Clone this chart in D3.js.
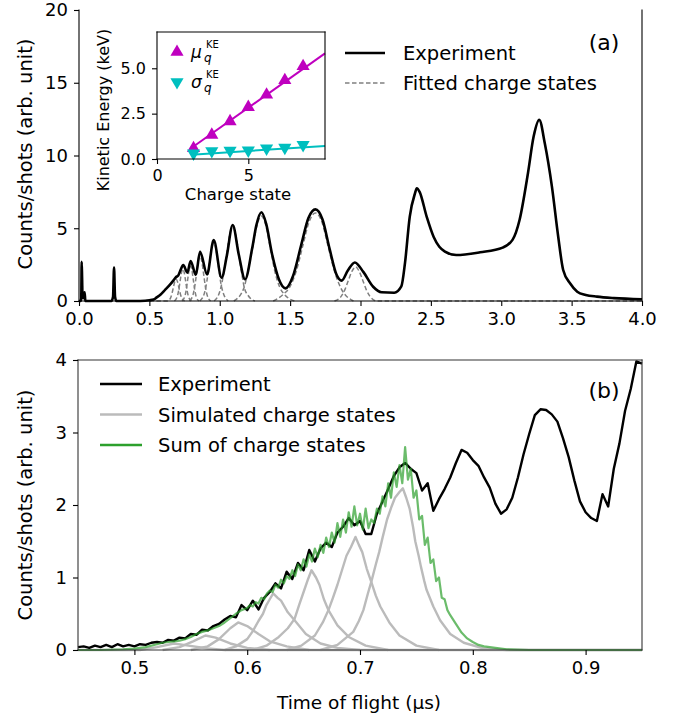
<!DOCTYPE html>
<html>
<head>
<meta charset="utf-8">
<script src="https://cdn.jsdelivr.net/npm/d3@7"></script>
<style>
  body { margin: 0; background: #fff; }
  svg text { font-family: 'DejaVu Sans', sans-serif; fill: #000; }
</style>
</head>
<body>
<svg id="chart" width="684" height="719"></svg>
<script>
// ---------------- data ----------------
// panel (a): time of flight (us) vs counts/shots
var expTop = [[0.000,0],[0.012,0],[0.016,0.2],[0.019,2.7],[0.022,1.6],[0.025,0.3],[0.030,0.2],[0.040,0.6],[0.045,0],[0.060,0],
  [0.230,0],[0.242,0.3],[0.249,2.3],[0.256,0.3],[0.265,0],[0.400,0],[0.470,0.02],[0.500,0.05],[0.530,0.1],[0.552,0.25],
  [0.580,0.45],[0.610,0.75],[0.640,1.05],[0.670,1.4],[0.690,1.65],[0.705,1.75],[0.720,2.1],[0.741,2.47],[0.770,1.95],
  [0.793,2.75],[0.830,1.8],[0.860,3.39],[0.910,1.83],[0.957,4.19],[1.013,1.6],[1.050,3.1],[1.092,5.22],[1.135,3.2],
  [1.180,1.49],[1.230,3.6],[1.260,5.2],[1.296,6.1],[1.330,5.3],[1.370,3.3],[1.420,1.5],[1.468,0.87],[1.520,1.7],
  [1.580,3.9],[1.630,5.7],[1.680,6.3],[1.730,5.6],[1.780,3.6],[1.830,1.8],[1.866,1.4],[1.910,2.1],[1.960,2.65],
  [2.020,2.0],[2.090,0.98],[2.150,0.6],[2.240,0.57],[2.290,1.0],[2.316,2.6],[2.350,5.8],[2.387,7.4],[2.400,7.75],
  [2.420,7.5],[2.470,5.8],[2.520,4.4],[2.560,3.73],[2.600,3.4],[2.680,3.16],[2.850,3.35],[3.010,3.67],[3.080,4.2],
  [3.130,5.57],[3.190,8.8],[3.230,11.3],[3.270,12.45],[3.310,10.8],[3.360,7.86],[3.405,4.4],[3.440,2.13],[3.490,1.2],
  [3.540,0.64],[3.600,0.42],[3.680,0.3],[3.800,0.2],[4.000,0.12]];

// fitted charge states (dashed)
var fitPeaks = [
  [[0.50,0],[0.63,0],[0.65,0.2],[0.66,0.49],[0.67,0.91],[0.68,1.32],[0.69,1.5],[0.70,1.32],[0.71,0.91],[0.72,0.49],[0.73,0.2],[0.75,0]],
  [[0.678,0],[0.698,0.3],[0.708,0.72],[0.718,1.34],[0.728,1.94],[0.738,2.2],[0.748,1.94],[0.758,1.34],[0.768,0.72],[0.778,0.3],[0.798,0]],
  [[0.732,0],[0.752,0.32],[0.762,0.78],[0.772,1.46],[0.782,2.12],[0.792,2.4],[0.802,2.12],[0.812,1.46],[0.822,0.78],[0.832,0.32],[0.852,0]],
  [[0.785,0],[0.81,0.42],[0.8225,1.01],[0.835,1.88],[0.8475,2.73],[0.86,3.1],[0.8725,2.73],[0.885,1.88],[0.8975,1.01],[0.91,0.42],[0.935,0]],
  [[0.858,0],[0.891,0.54],[0.9075,1.3],[0.924,2.43],[0.9405,3.53],[0.957,4.0],[0.9735,3.53],[0.99,2.43],[1.0065,1.3],[1.023,0.6],[1.06,0]],
  [[0.96,0],[1.002,0.7],[1.0245,1.7],[1.047,3.1],[1.0695,4.5],[1.092,5.05],[1.1145,4.5],[1.137,3.1],[1.1595,1.7],[1.175,0.9],[1.2,0.4],[1.25,0]],
  [[1.10,0],[1.17,0.85],[1.1985,1.95],[1.231,3.55],[1.2635,5.15],[1.296,5.85],[1.3285,5.15],[1.361,3.55],[1.3935,1.95],[1.426,0.95],[1.46,0.45],[1.53,0]],
  [[1.38,0],[1.45,0.45],[1.50,1.0],[1.545,2.1],[1.59,3.8],[1.635,5.45],[1.68,6.05],[1.725,5.45],[1.77,3.75],[1.815,2.05],[1.86,0.9],[1.95,0]],
  [[1.815,0],[1.865,0.35],[1.89,0.8],[1.915,1.45],[1.94,2.05],[1.965,2.35],[1.99,2.05],[2.015,1.45],[2.04,0.8],[2.065,0.35],[2.115,0],[4.0,0]]
];

// inset: kinetic energy vs charge state
var chargeStates = [2, 3, 4, 5, 6, 7, 8];
var muKE = [0.59, 1.33, 2.07, 2.86, 3.54, 4.34, 5.11];
var sigmaKE = [0.31, 0.44, 0.46, 0.48, 0.59, 0.63, 0.78];
var fitQ = [1.9, 9.2];
var muFit = [0.62, 5.82];
var sigmaFit = [0.24, 0.72];

// panel (b): zoom on 0.45-0.95 us
var expBottom = [[0.450,0.04],[0.455,0.05],[0.460,0.03],[0.465,0.06],[0.470,0.04],[0.475,0.07],[0.480,0.04],[0.485,0.08],
  [0.490,0.05],[0.495,0.07],[0.500,0.05],[0.505,0.08],[0.510,0.07],[0.515,0.10],[0.520,0.11],[0.525,0.10],[0.530,0.14],
  [0.535,0.13],[0.540,0.17],[0.545,0.16],[0.550,0.22],[0.555,0.21],[0.560,0.28],[0.565,0.27],[0.570,0.33],[0.575,0.36],
  [0.580,0.42],[0.585,0.47],[0.590,0.45],[0.595,0.62],[0.600,0.55],[0.605,0.68],[0.610,0.56],[0.615,0.72],[0.620,0.80],
  [0.625,0.92],[0.630,0.85],[0.635,1.08],[0.640,0.98],[0.645,1.20],[0.650,1.10],[0.655,1.38],[0.660,1.22],[0.665,1.40],
  [0.670,1.48],[0.675,1.42],[0.680,1.62],[0.685,1.70],[0.690,1.82],[0.695,1.72],[0.700,1.78],[0.705,1.60],[0.710,1.60],
  [0.715,1.88],[0.720,2.05],[0.725,2.22],[0.730,2.40],[0.735,2.52],[0.740,2.58],[0.745,2.50],[0.750,2.44],[0.755,2.20],
  [0.760,2.30],[0.765,1.92],[0.770,2.08],[0.775,2.22],[0.780,2.38],[0.785,2.58],[0.790,2.76],[0.795,2.72],[0.800,2.62],
  [0.805,2.54],[0.810,2.38],[0.815,2.24],[0.820,2.02],[0.825,1.88],[0.830,1.94],[0.835,2.10],[0.840,2.38],[0.845,2.70],
  [0.850,2.98],[0.855,3.24],[0.860,3.32],[0.865,3.31],[0.870,3.25],[0.875,3.15],[0.880,2.92],[0.885,2.66],[0.890,2.34],
  [0.895,2.05],[0.900,1.90],[0.905,1.82],[0.910,1.78],[0.915,2.15],[0.920,1.98],[0.925,2.50],[0.930,2.85],[0.935,3.30],
  [0.940,3.60],[0.945,3.98],[0.950,3.95]];

var sumStates = [[0.450,0],[0.470,0],[0.490,0.01],[0.500,0.02],[0.510,0.04],[0.520,0.08],[0.525,0.10],[0.530,0.11],
  [0.535,0.12],[0.540,0.13],[0.545,0.15],[0.550,0.18],[0.555,0.22],[0.560,0.25],[0.565,0.27],[0.570,0.30],[0.575,0.33],
  [0.580,0.38],[0.585,0.44],[0.590,0.50],[0.595,0.55],[0.600,0.58],[0.6025,0.62],[0.605,0.60],[0.6075,0.66],[0.610,0.64],
  [0.6125,0.72],[0.615,0.70],[0.6175,0.78],[0.620,0.82],[0.6225,0.80],[0.625,0.90],[0.6275,0.86],[0.630,0.97],[0.6325,0.92],
  [0.635,1.02],[0.6375,0.98],[0.640,1.10],[0.6425,1.02],[0.645,1.18],[0.6475,1.10],[0.650,1.25],[0.6525,1.15],[0.655,1.32],
  [0.6575,1.22],[0.660,1.40],[0.6625,1.28],[0.665,1.45],[0.6675,1.34],[0.670,1.55],[0.6725,1.42],[0.675,1.62],[0.6775,1.48],
  [0.680,1.75],[0.6825,1.56],[0.685,1.80],[0.6875,1.62],[0.690,1.90],[0.6925,1.70],[0.695,1.98],[0.6975,1.72],[0.700,1.88],
  [0.7025,1.66],[0.705,1.95],[0.7075,1.68],[0.710,1.80],[0.7125,1.75],[0.715,1.95],[0.7175,1.88],[0.720,2.12],[0.7225,1.98],
  [0.725,2.30],[0.7275,2.10],[0.730,2.45],[0.7325,2.25],[0.735,2.55],[0.7375,2.30],[0.740,2.80],[0.7425,2.35],[0.745,2.50],
  [0.7475,2.10],[0.750,2.20],[0.7525,1.80],[0.755,1.85],[0.7575,1.45],[0.760,1.55],[0.7625,1.20],[0.765,1.25],[0.7675,0.95],
  [0.770,1.00],[0.7725,0.72],[0.775,0.70],[0.7775,0.55],[0.780,0.48],[0.785,0.36],[0.790,0.24],[0.795,0.16],[0.800,0.11],
  [0.805,0.07],[0.810,0.05],[0.820,0.03],[0.830,0.01],[0.850,0],[0.950,0]];

// simulated charge states (grey)
var simStates = [
  [[0.45,0],[0.505,0],[0.52,0.04],[0.535,0.09],[0.548,0.06],[0.565,0.02],[0.58,0],[0.95,0]],
  [[0.525,0],[0.54,0.04],[0.552,0.12],[0.563,0.2],[0.572,0.17],[0.585,0.09],[0.60,0.03],[0.62,0]],
  [[0.55,0],[0.565,0.05],[0.575,0.15],[0.585,0.3],[0.592,0.38],[0.60,0.33],[0.61,0.22],[0.62,0.12],[0.635,0.05],[0.655,0]],
  [[0.58,0],[0.59,0.05],[0.60,0.15],[0.605,0.26],[0.61,0.4],[0.614,0.5],[0.617,0.62],[0.62,0.7],[0.623,0.78],[0.627,0.72],
   [0.63,0.68],[0.636,0.52],[0.642,0.41],[0.652,0.22],[0.665,0.09],[0.68,0.03],[0.70,0]],
  [[0.605,0],[0.617,0.06],[0.628,0.18],[0.636,0.3],[0.642,0.43],[0.646,0.62],[0.65,0.8],[0.654,0.98],[0.657,1.1],[0.661,1.0],
   [0.664,0.9],[0.668,0.7],[0.672,0.55],[0.68,0.34],[0.69,0.18],[0.705,0.06],[0.725,0]],
  [[0.635,0],[0.648,0.06],[0.66,0.2],[0.667,0.38],[0.672,0.55],[0.676,0.72],[0.68,0.9],[0.684,1.1],[0.688,1.3],[0.692,1.42],
   [0.696,1.56],[0.699,1.45],[0.702,1.35],[0.706,1.12],[0.71,0.94],[0.714,0.75],[0.718,0.6],[0.726,0.38],[0.735,0.2],[0.75,0.06],[0.77,0]],
  [[0.665,0],[0.68,0.07],[0.694,0.25],[0.699,0.4],[0.703,0.55],[0.707,0.78],[0.71,0.94],[0.714,1.18],[0.717,1.35],[0.72,1.55],
   [0.724,1.8],[0.728,1.98],[0.731,2.1],[0.735,2.18],[0.738,2.23],[0.741,2.1],[0.744,1.95],[0.747,1.7],[0.749,1.5],[0.752,1.3],
   [0.754,1.15],[0.757,0.95],[0.759,0.83],[0.765,0.6],[0.771,0.41],[0.78,0.22],[0.792,0.1],[0.81,0.02],[0.83,0],[0.95,0]]
];

var topXTicks = [0, 0.5, 1.0, 1.5, 2.0, 2.5, 3.0, 3.5, 4.0];
var topYTicks = [0, 5, 10, 15, 20];
var botXTicks = [0.5, 0.6, 0.7, 0.8, 0.9];
var botYTicks = [0, 1, 2, 3, 4];
var insetXTicks = [0, 5];
var insetYTicks = [0, 2.5, 5.0];

// ---------------- drawing ----------------
var svg = d3.select('#chart');
var GREEN = '#2ca02c', GREY = '#bbbbbb', FIT = '#808080';
var MAG = '#bf00bf', CYAN = '#00bfbf';

function spines(g, x, y, sides, color) {
  var x0 = x.range()[0], x1 = x.range()[1], y0 = y.range()[0], y1 = y.range()[1];
  var seg = { left: [x0, y0, x0, y1], right: [x1, y0, x1, y1], bottom: [x0, y0, x1, y0], top: [x0, y1, x1, y1] };
  sides.forEach(function (s) {
    g.append('line').attr('x1', seg[s][0]).attr('y1', seg[s][1]).attr('x2', seg[s][2]).attr('y2', seg[s][3])
      .attr('stroke', color || '#000').attr('stroke-width', 1.1).attr('stroke-linecap', 'square');
  });
}

function axes(g, x, y, xt, yt, xfmt, yfmt, fs) {
  var y0 = y.range()[0], x0 = x.range()[0];
  var ax = g.append('g').attr('transform', 'translate(0,' + y0 + ')')
    .call(d3.axisBottom(x).tickValues(xt).tickFormat(xfmt).tickSize(5).tickPadding(6));
  var ay = g.append('g').attr('transform', 'translate(' + x0 + ',0)')
    .call(d3.axisLeft(y).tickValues(yt).tickFormat(yfmt).tickSize(5).tickPadding(6));
  [ax, ay].forEach(function (a) {
    a.select('.domain').remove();
    a.selectAll('text').style('font-size', fs + 'px').style('font-family', "'DejaVu Sans', sans-serif");
    a.selectAll('line').attr('stroke', '#000').attr('stroke-width', 1.1);
  });
}

// ---- panel (a) ----
var xTop = d3.scaleLinear().domain([0, 4]).range([79, 642]);
var yTop = d3.scaleLinear().domain([0, 20]).range([301, 10]);
var gA = svg.append('g');
var lineTop = d3.line().x(function (d) { return xTop(d[0]); }).y(function (d) { return yTop(d[1]); }).curve(d3.curveMonotoneX);

gA.selectAll('path.fit').data(fitPeaks).enter().append('path').attr('class', 'fit')
  .attr('d', lineTop).attr('fill', 'none').attr('stroke', FIT).attr('stroke-width', 1.5).attr('stroke-dasharray', '4.5,2.5');
gA.append('path').attr('d', lineTop(expTop)).attr('fill', 'none').attr('stroke', '#000')
  .attr('stroke-width', 2.6).attr('stroke-linejoin', 'round');

spines(gA, xTop, yTop, ['left', 'bottom', 'right']);
axes(gA, xTop, yTop, topXTicks, topYTicks, d3.format('.1f'), d3.format('d'), 18);

gA.append('text').attr('transform', 'translate(32,154) rotate(-90)').attr('text-anchor', 'middle')
  .style('font-size', '19.5px').text('Counts/shots (arb. unit)');
gA.append('text').attr('x', 604).attr('y', 50).attr('text-anchor', 'middle').style('font-size', '22px').text('(a)');

// legend (a)
var legA = [{ label: 'Experiment', stroke: '#000', w: 2.6, dash: null }, { label: 'Fitted charge states', stroke: FIT, w: 1.5, dash: '4.5,2.5' }];
legA.forEach(function (d, i) {
  var yy = 53 + i * 30;
  gA.append('line').attr('x1', 345).attr('x2', 385).attr('y1', yy).attr('y2', yy)
    .attr('stroke', d.stroke).attr('stroke-width', d.w).attr('stroke-dasharray', d.dash);
  gA.append('text').attr('x', 403).attr('y', yy).attr('dy', '0.36em').style('font-size', '19.5px').text(d.label);
});

// ---- inset ----
var xIn = d3.scaleLinear().domain([0, 9.2]).range([157, 325]);
var yIn = d3.scaleLinear().domain([0, 7]).range([159, 32]);
var gI = svg.append('g');
gI.append('rect').attr('x', 157).attr('y', 32).attr('width', 168).attr('height', 127).attr('fill', '#fff');
var lineIn = d3.line().x(function (d) { return xIn(d[0]); }).y(function (d) { return yIn(d[1]); });
gI.append('path').attr('d', lineIn(fitQ.map(function (q, i) { return [q, muFit[i]]; })))
  .attr('stroke', MAG).attr('stroke-width', 2).attr('fill', 'none');
gI.append('path').attr('d', lineIn(fitQ.map(function (q, i) { return [q, sigmaFit[i]]; })))
  .attr('stroke', CYAN).attr('stroke-width', 2).attr('fill', 'none');
var tri = d3.symbol().type(d3.symbolTriangle).size(75);
gI.selectAll('path.mu').data(chargeStates).enter().append('path').attr('class', 'mu').attr('d', tri)
  .attr('transform', function (q, i) { return 'translate(' + xIn(q) + ',' + yIn(muKE[i]) + ')'; }).attr('fill', MAG);
gI.selectAll('path.sig').data(chargeStates).enter().append('path').attr('class', 'sig').attr('d', tri)
  .attr('transform', function (q, i) { return 'translate(' + xIn(q) + ',' + yIn(sigmaKE[i]) + ') rotate(180)'; }).attr('fill', CYAN);
spines(gI, xIn, yIn, ['left', 'bottom', 'right', 'top']);
axes(gI, xIn, yIn, insetXTicks, insetYTicks, d3.format('d'), d3.format('.1f'), 16);
gI.append('text').attr('x', 238).attr('y', 200).attr('text-anchor', 'middle').style('font-size', '16.5px').text('Charge state');
gI.append('text').attr('transform', 'translate(109,110) rotate(-90)').attr('text-anchor', 'middle')
  .style('font-size', '16px').text('Kinetic Energy (keV)');

// inset legend: symbol, then stacked superscript KE / subscript q
var legI = [{ sym: '\u03bc', color: MAG, rot: 0 }, { sym: '\u03c3', color: CYAN, rot: 180 }];
legI.forEach(function (d, i) {
  var yy = 52 + i * 30;
  gI.append('path').attr('d', tri).attr('fill', d.color).attr('transform', 'translate(177,' + yy + ') rotate(' + d.rot + ')');
  gI.append('text').attr('x', 191).attr('y', yy + 6).style('font-size', '17px').style('font-style', 'italic').text(d.sym);
  gI.append('text').attr('x', 206).attr('y', yy - 4).style('font-size', '10px').text('KE');
  gI.append('text').attr('x', 204).attr('y', yy + 10).style('font-size', '12px').style('font-style', 'italic').text('q');
});

// ---- panel (b) ----
var xBot = d3.scaleLinear().domain([0.45, 0.95]).range([78, 642]);
var yBot = d3.scaleLinear().domain([0, 4]).range([650, 360]);
var gB = svg.append('g');
var lineBot = d3.line().x(function (d) { return xBot(d[0]); }).y(function (d) { return yBot(d[1]); });

gB.selectAll('path.sim').data(simStates).enter().append('path').attr('class', 'sim')
  .attr('d', lineBot).attr('fill', 'none').attr('stroke', GREY).attr('stroke-width', 2.4).attr('stroke-linejoin', 'round');
gB.append('path').attr('d', lineBot(expBottom)).attr('fill', 'none').attr('stroke', '#000')
  .attr('stroke-width', 2.4).attr('stroke-linejoin', 'round');
gB.append('path').attr('d', lineBot(sumStates)).attr('fill', 'none').attr('stroke', GREEN)
  .attr('stroke-opacity', 0.7).attr('stroke-width', 2.2).attr('stroke-linejoin', 'round');

spines(gB, xBot, yBot, ['left', 'bottom', 'right', 'top'], '#333');
axes(gB, xBot, yBot, botXTicks, botYTicks, d3.format('.1f'), d3.format('d'), 18);

gB.append('text').attr('transform', 'translate(32,505) rotate(-90)').attr('text-anchor', 'middle')
  .style('font-size', '19.5px').text('Counts/shots (arb. unit)');
gB.append('text').attr('x', 359).attr('y', 709).attr('text-anchor', 'middle').style('font-size', '18.5px').text('Time of flight (\u03bcs)');
gB.append('text').attr('x', 604).attr('y', 398).attr('text-anchor', 'middle').style('font-size', '22px').text('(b)');

// legend (b)
var legB = [{ label: 'Experiment', stroke: '#000' }, { label: 'Simulated charge states', stroke: GREY }, { label: 'Sum of charge states', stroke: GREEN }];
legB.forEach(function (d, i) {
  var yy = 384 + i * 30.5;
  gB.append('line').attr('x1', 100).attr('x2', 142).attr('y1', yy).attr('y2', yy)
    .attr('stroke', d.stroke).attr('stroke-width', 2.6);
  gB.append('text').attr('x', 158).attr('y', yy).attr('dy', '0.36em').style('font-size', '19.5px').text(d.label);
});
</script>
</body>
</html>
